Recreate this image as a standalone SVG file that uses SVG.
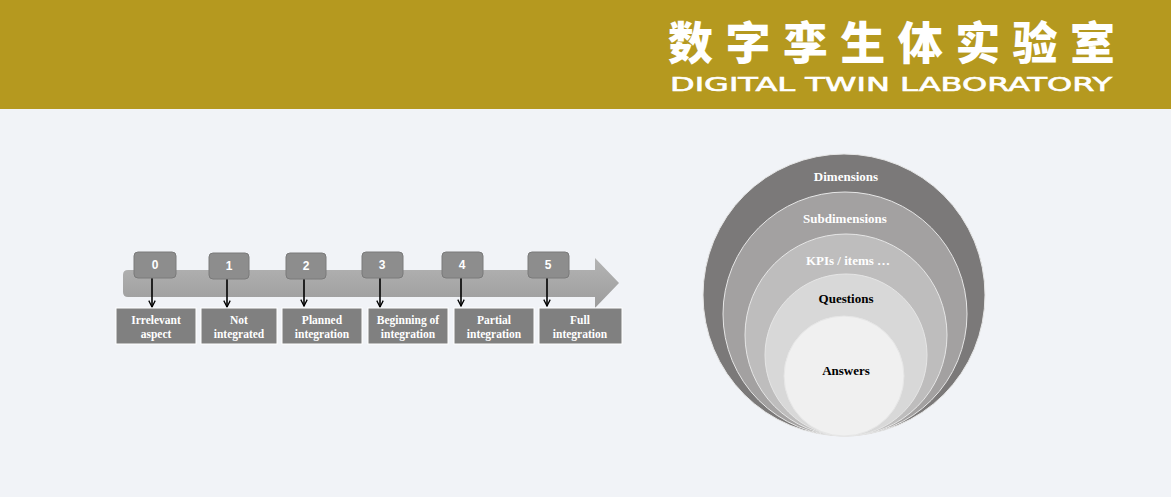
<svg xmlns="http://www.w3.org/2000/svg" width="1171" height="497" viewBox="0 0 1171 497">
<defs>
<style>
.num{fill:#8d8d8d;stroke:#7a7a7a;stroke-width:1}
.numt{font-family:"Liberation Sans",Arial,sans-serif;font-weight:bold;font-size:12px;fill:#ffffff;text-anchor:middle}
.lab{fill:#808080;stroke:#ffffff;stroke-width:1}
.labt{font-family:"Liberation Serif","Times New Roman",serif;font-weight:bold;font-size:11.5px;fill:#ffffff;text-anchor:middle}
.conn{stroke:#000000;stroke-width:1.6;fill:none}
.ring{stroke:#e6e6e6;stroke-width:1}
.ct{font-family:"Liberation Serif","Times New Roman",serif;font-weight:bold;font-size:13px;text-anchor:middle}
</style>
<linearGradient id="band" x1="0" y1="0" x2="0" y2="1">
<stop offset="0" stop-color="#b4b4b4"/>
<stop offset="1" stop-color="#9c9c9c"/>
</linearGradient>
<marker id="ah" viewBox="0 0 10 10" refX="9" refY="5" markerWidth="5" markerHeight="5" orient="auto" markerUnits="strokeWidth">
<path d="M1,1 L9,5 L1,9" fill="none" stroke="#000" stroke-width="1.6"/>
</marker>
</defs>
<rect x="0" y="0" width="1171" height="497" fill="#f1f3f7"/>
<g id="header">
<rect x="0" y="0" width="1171" height="109" fill="#b5991f"/>
<text x="668" y="60" font-family="Noto Sans CJK SC, sans-serif" font-weight="900" font-size="45" fill="#ffffff" textLength="447" lengthAdjust="spacing">数字孪生体实验室</text>
<text x="670" y="91" font-family="DejaVu Sans, sans-serif" font-size="19.5" fill="#ffffff" stroke="#ffffff" stroke-width="0.6" textLength="442" lengthAdjust="spacingAndGlyphs">DIGITAL TWIN LABORATORY</text>
</g>
<g id="scale-arrow">
<path d="M128,270 L595,270 L595,258 L619,283 L595,308 L595,297 L128,297 Q123,297 123,292 L123,275 Q123,270 128,270 Z" fill="url(#band)"/>
</g>
<g id="connectors">
<line class="conn" x1="152" y1="278" x2="152" y2="307" marker-end="url(#ah)"/>
<line class="conn" x1="227" y1="279" x2="227" y2="307" marker-end="url(#ah)"/>
<line class="conn" x1="304" y1="279" x2="304" y2="306" marker-end="url(#ah)"/>
<line class="conn" x1="380" y1="278" x2="380" y2="307" marker-end="url(#ah)"/>
<line class="conn" x1="461" y1="278" x2="461" y2="306" marker-end="url(#ah)"/>
<line class="conn" x1="547" y1="278" x2="547" y2="306" marker-end="url(#ah)"/>
</g>
<g id="level-0"><rect class="num" x="134" y="252" width="42" height="26" rx="4"/><text class="numt" x="155" y="269">0</text>
<rect class="lab" x="116" y="308" width="80" height="36"/><text class="labt" x="156" y="324">Irrelevant</text><text class="labt" x="156" y="338">aspect</text></g>
<g id="level-1"><rect class="num" x="209" y="253" width="40" height="26" rx="4"/><text class="numt" x="229" y="270">1</text>
<rect class="lab" x="201" y="308" width="76" height="36"/><text class="labt" x="239" y="324">Not</text><text class="labt" x="239" y="338">integrated</text></g>
<g id="level-2"><rect class="num" x="286" y="253" width="40" height="26" rx="4"/><text class="numt" x="306" y="270">2</text>
<rect class="lab" x="282" y="308" width="80" height="36"/><text class="labt" x="322" y="324">Planned</text><text class="labt" x="322" y="338">integration</text></g>
<g id="level-3"><rect class="num" x="362" y="252" width="41" height="26" rx="4"/><text class="numt" x="382" y="269">3</text>
<rect class="lab" x="368" y="308" width="80" height="36"/><text class="labt" x="408" y="324">Beginning of</text><text class="labt" x="408" y="338">integration</text></g>
<g id="level-4"><rect class="num" x="442" y="252" width="41" height="26" rx="4"/><text class="numt" x="462" y="269">4</text>
<rect class="lab" x="454" y="308" width="80" height="36"/><text class="labt" x="494" y="324">Partial</text><text class="labt" x="494" y="338">integration</text></g>
<g id="level-5"><rect class="num" x="528" y="252" width="41" height="26" rx="4"/><text class="numt" x="548" y="269">5</text>
<rect class="lab" x="539" y="308" width="83" height="36"/><text class="labt" x="580" y="324">Full</text><text class="labt" x="580" y="338">integration</text></g>
<g id="dimensions"><circle class="ring" cx="844" cy="295" r="141" fill="#7b7979"/><text class="ct" x="846" y="181" fill="#ffffff">Dimensions</text></g>
<g id="subdimensions"><circle class="ring" cx="845" cy="314" r="122" fill="#a3a1a1"/><text class="ct" x="845" y="223" fill="#ffffff">Subdimensions</text></g>
<g id="kpis"><circle class="ring" cx="846" cy="335" r="101" fill="#bebdbd"/><text class="ct" x="848" y="265" fill="#ffffff">KPIs / items …</text></g>
<g id="questions"><circle class="ring" cx="846" cy="355" r="81" fill="#d8d8d8" stroke="#c4c4c4"/><text class="ct" x="846" y="303" fill="#000000">Questions</text></g>
<g id="answers"><circle class="ring" cx="844" cy="376" r="60" fill="#f0f0f0" stroke="#b0b0b0"/><text class="ct" x="846" y="375" fill="#000000">Answers</text></g>
</svg>
